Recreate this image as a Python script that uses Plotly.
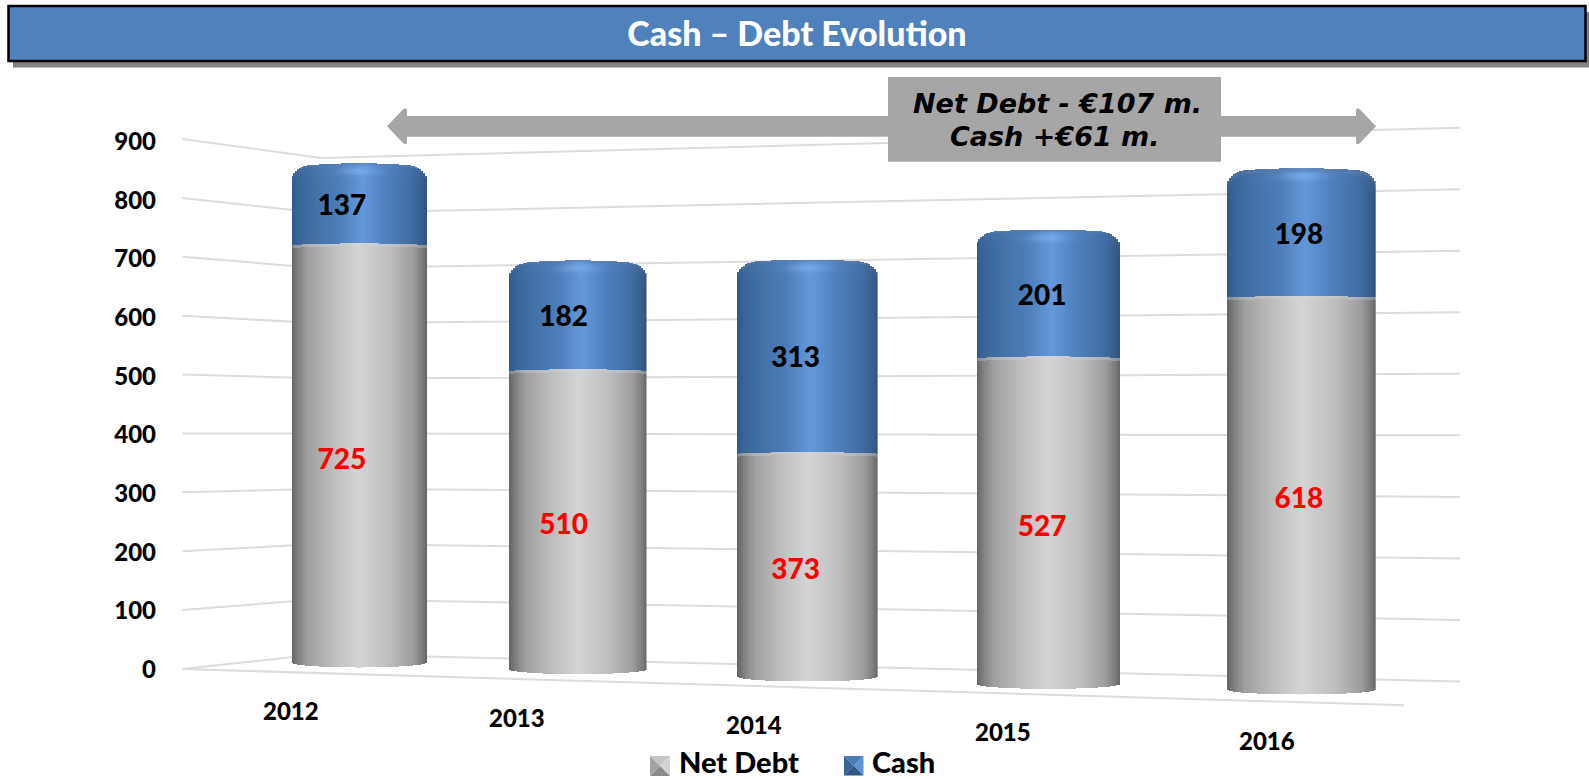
import math
import plotly.graph_objects as go

W, H = 1589, 779

# ---- data ----
years = ["2012", "2013", "2014", "2015", "2016"]
net_debt = [725, 510, 373, 527, 618]
cash = [137, 182, 313, 201, 198]
y_ticks = [0, 100, 200, 300, 400, 500, 600, 700, 800, 900]

# ---- perspective geometry of the five cylinders (pixels) ----
bar_left = [292, 508.5, 736.7, 977, 1226.7]
bar_right = [427, 646.5, 877.6, 1120, 1375.7]
bar_floor = [667.8, 673.9, 681, 689.1, 694.3]
px_per_unit = [0.585, 0.598, 0.615, 0.631, 0.645]
label_shift = [-0.26, -0.2, -0.165, -0.09, -0.03]
year_x = [291, 517, 754, 1003, 1267]
year_y = [710, 717.5, 724.6, 731.7, 740]

FONT = "Lato"
WEIGHT = 900
GREY_STOPS = [(-1, (98, 98, 98)), (-.9, (128, 128, 128)), (-.75, (160, 160, 160)), (-.4, (188, 188, 188)),
              (0, (212, 212, 212)), (.45, (190, 190, 190)), (.8, (156, 156, 156)), (.93, (125, 125, 125)), (1, (100, 100, 100))]
BLUE_STOPS = [(-1, (47, 88, 136)), (-.88, (58, 102, 152)), (-.6, (68, 115, 170)), (-.3, (76, 125, 185)),
              (.05, (101, 152, 218)), (.4, (78, 128, 190)), (.75, (66, 110, 165)), (.92, (55, 94, 142)), (1, (48, 82, 122))]


def ramp(stops, t):
    for (a, ca), (b, cb) in zip(stops, stops[1:]):
        if t <= b:
            f = (t - a) / (b - a)
            return tuple(p + (q - p) * f for p, q in zip(ca, cb))
    return stops[-1][1]


def mix(c, other, f):
    return tuple(p + (q - p) * f for p, q in zip(c, other))


def css(c):
    return "rgb(%d,%d,%d)" % tuple(round(v) for v in c)


def top_drop(t, half_w):
    cw = 20 / half_w
    drop = 3.5 * t * t
    if abs(t) > 1 - cw:
        u = min(1, (abs(t) - (1 - cw)) / cw)
        drop += 13 * (1 - math.sqrt(1 - u * u))
    return drop


def cyl_traces(i):
    """One bar trace per series: the cylinder is cut into 2 px strips so the shading can follow it."""
    half_w = (bar_right[i] - bar_left[i]) / 2
    n = int(round(half_w))
    dt = 2 / n
    k = px_per_unit[i]
    axis = "" if i == 0 else str(i + 1)
    ts = [-1 + dt * (j + .5) for j in range(n)]
    gx, gb, gy, gc = [], [], [], []
    bx, bb, by, bc = [], [], [], []
    total = net_debt[i] + cash[i]
    for t in ts:
        grey = ramp(GREY_STOPS, t)
        blue = ramp(BLUE_STOPS, t)
        seam = net_debt[i] - 1.5 * t * t / k
        floor = 5 * (1 - math.sqrt(max(0, 1 - t * t))) / k
        rim = 3 / k
        gx += [t, t]
        gb += [floor, seam - rim]
        gy += [seam - rim - floor, rim]
        gc += [css(grey), css(mix(grey, (205, 216, 228), .3))]
        cap_top = total - top_drop(t, half_w) / k
        band = 2 / k
        n_band = 9
        body_top = cap_top - n_band * band
        bx.append(t); bb.append(seam); by.append(body_top - seam); bc.append(css(blue))
        for b in range(n_band):
            d = (n_band - b - .5) * band * k      # px below the top edge
            c = mix(blue, (98, 140, 200), .12 * (1 - d / 18))
            c = mix(c, (132, 186, 245), .5 * math.exp(-(t / .27) ** 2) * math.exp(-((d - 8) / 4) ** 2))
            if d < 3:
                c = mix(c, (92, 125, 168), .45)
            bx.append(t); bb.append(body_top + b * band); by.append(band); bc.append(css(c))
    common = dict(orientation="v", width=dt, marker_line_width=0, hoverinfo="skip",
                  showlegend=False, xaxis="x" + axis, yaxis="y" + axis)
    return [
        go.Bar(name="Net Debt " + years[i], x=gx, base=gb, y=gy, marker_color=gc, **common),
        go.Bar(name="Cash " + years[i], x=bx, base=bb, y=by, marker_color=bc, **common),
        go.Scatter(x=[label_shift[i], label_shift[i]],
                   y=[net_debt[i] / 2 - 10, net_debt[i] + cash[i] / 2 - 8],
                   text=[str(net_debt[i]), str(cash[i])], mode="text", hoverinfo="skip", showlegend=False,
                   textfont=dict(family=FONT, size=28, color=["#ff0000", "#000000"], weight=WEIGHT),
                   xaxis="x" + axis, yaxis="y" + axis),
    ]


fig = go.Figure()
layout_axes = {}
for i in range(len(years)):
    fig.add_traces(cyl_traces(i))
    suffix = "" if i == 0 else str(i + 1)
    top_px = bar_floor[i] - 900 * px_per_unit[i]
    layout_axes["xaxis" + suffix] = dict(domain=[bar_left[i] / W, bar_right[i] / W], range=[-1, 1], visible=False, fixedrange=True)
    layout_axes["yaxis" + suffix] = dict(domain=[1 - bar_floor[i] / H, 1 - top_px / H], range=[0, 900], visible=False, fixedrange=True)

# value axis on the left wall
fig.add_trace(go.Scatter(x=[0], y=[0], mode="none", hoverinfo="skip", showlegend=False, xaxis="x6", yaxis="y6"))
layout_axes["xaxis6"] = dict(domain=[157 / W, 1], range=[0, 1], visible=False, fixedrange=True)
layout_axes["yaxis6"] = dict(domain=[1 - 669.5 / H, 1 - 141.5 / H], range=[0, 900], anchor="x6", side="left",
                             tickvals=y_ticks, ticks="", showgrid=False, zeroline=False, showline=False, fixedrange=True,
                             tickfont=dict(family=FONT, size=24, color="#000000", weight=WEIGHT))

# ---- wall, floor and header drawing ----
WALL_X = [182.4, 321, 1460]
WALL_Y0 = [669, 654, 681.5]
WALL_Y900 = [139, 158, 127.7]
GRID = "#dcdcdc"


def px(x, y):
    return x / W, 1 - y / H


def poly(points, fill=None, line=None, width=0, layer="above"):
    d = "M" + " L".join("%.5f,%.5f" % px(*p) for p in points)
    if fill:
        d += " Z"
    return dict(type="path", xref="paper", yref="paper", path=d, fillcolor=fill,
                line=dict(color=line or "rgba(0,0,0,0)", width=width), layer=layer)


shapes = []
for v in y_ticks:
    pts = [(x, y0 + (y9 - y0) * v / 900) for x, y0, y9 in zip(WALL_X, WALL_Y0, WALL_Y900)]
    shapes.append(poly(pts, line=GRID, width=2, layer="below"))
shapes.append(poly([(WALL_X[0], WALL_Y0[0]), (1404, 705.3)], line=GRID, width=2, layer="below"))

# header band with its drop shadow
shapes.append(poly([(13, 12), (1589, 12), (1589, 67.5), (13, 67.5)], fill="#808080", layer="below"))
shapes.append(poly([(8.5, 6), (1585.5, 6), (1585.5, 61), (8.5, 61)], fill="#4f81bd", line="#000000", width=2.5))

# period arrow and the callout box
ARROW = "#a6a6a6"
cy = 126.3
x = lambda v: "%.5f" % (v / W)
y = lambda v: "%.5f" % (1 - v / H)
arrow_path = (
    f"M{x(387)},{y(cy)} L{x(403)},{y(109.5)} Q{x(407)},{y(106.5)} {x(407)},{y(111)} L{x(407)},{y(116)} "
    f"L{x(1356)},{y(116)} L{x(1356)},{y(111)} Q{x(1356)},{y(106.5)} {x(1360)},{y(109.5)} L{x(1376)},{y(cy)} "
    f"L{x(1360)},{y(143)} Q{x(1356)},{y(146)} {x(1356)},{y(141.5)} L{x(1356)},{y(136.7)} "
    f"L{x(407)},{y(136.7)} L{x(407)},{y(141.5)} Q{x(407)},{y(146)} {x(403)},{y(143)} Z"
)
shapes.append(dict(type="path", xref="paper", yref="paper", path=arrow_path, fillcolor=ARROW, line=dict(width=0)))
shapes.append(poly([(888, 77), (1221, 77), (1221, 161.7), (888, 161.7)], fill=ARROW))

# legend keys: four bevelled triangles each
LEGEND_KEYS = [(650, 756, 20, ["#c4c4c4", "#d2d2d2", "#8a8a8a", "#a2a2a2"]),
               (844, 756, 19.5, ["#4c7cb6", "#5f93d2", "#2f5583", "#3a6597"])]
for kx, ky, s, cols in LEGEND_KEYS:
    c = (kx + s / 2, ky + s / 2)
    corners = [(kx, ky), (kx + s, ky), (kx + s, ky + s), (kx, ky + s)]
    for j, col in enumerate(cols):
        shapes.append(poly([corners[j], corners[(j + 1) % 4], c], fill=col))


def note(text, px_x, px_y, size, color="#000000", family=FONT, style="normal", anchor="center"):
    return dict(text=text, x=px_x / W, y=1 - px_y / H, xref="paper", yref="paper", xanchor=anchor, yanchor="middle",
                showarrow=False, font=dict(family=family, size=size, color=color, style=style, weight=WEIGHT))


annotations = [note(yr, xx, yy, 24) for yr, xx, yy in zip(years, year_x, year_y)]
annotations += [
    note("Net Debt - €107 m.", 1057, 103.5, 27, family="DejaVu Sans", style="italic"),
    note("Cash +€61 m.", 1055, 136.5, 27, family="DejaVu Sans", style="italic"),
    note("Net Debt", 677, 761.5, 29, anchor="left"),
    note("Cash", 869.5, 761.5, 29, anchor="left"),
]

fig.update_layout(
    width=W, height=H, autosize=False,
    margin=dict(l=0, r=0, t=0, b=0, pad=0, autoexpand=False),
    paper_bgcolor="#ffffff", plot_bgcolor="rgba(0,0,0,0)",
    barmode="overlay", bargap=0,
    title=dict(text="Cash – Debt Evolution", x=797 / W, xanchor="center", y=1 - 34.5 / H, yanchor="middle",
               xref="paper", yref="paper", font=dict(family=FONT, size=34, color="#ffffff", weight=WEIGHT)),
    shapes=shapes, annotations=annotations, **layout_axes,
)
fig.write_html("out.html", config={"displayModeBar": False},
               post_script="document.body.style.margin='0';document.body.style.overflow='hidden';")
